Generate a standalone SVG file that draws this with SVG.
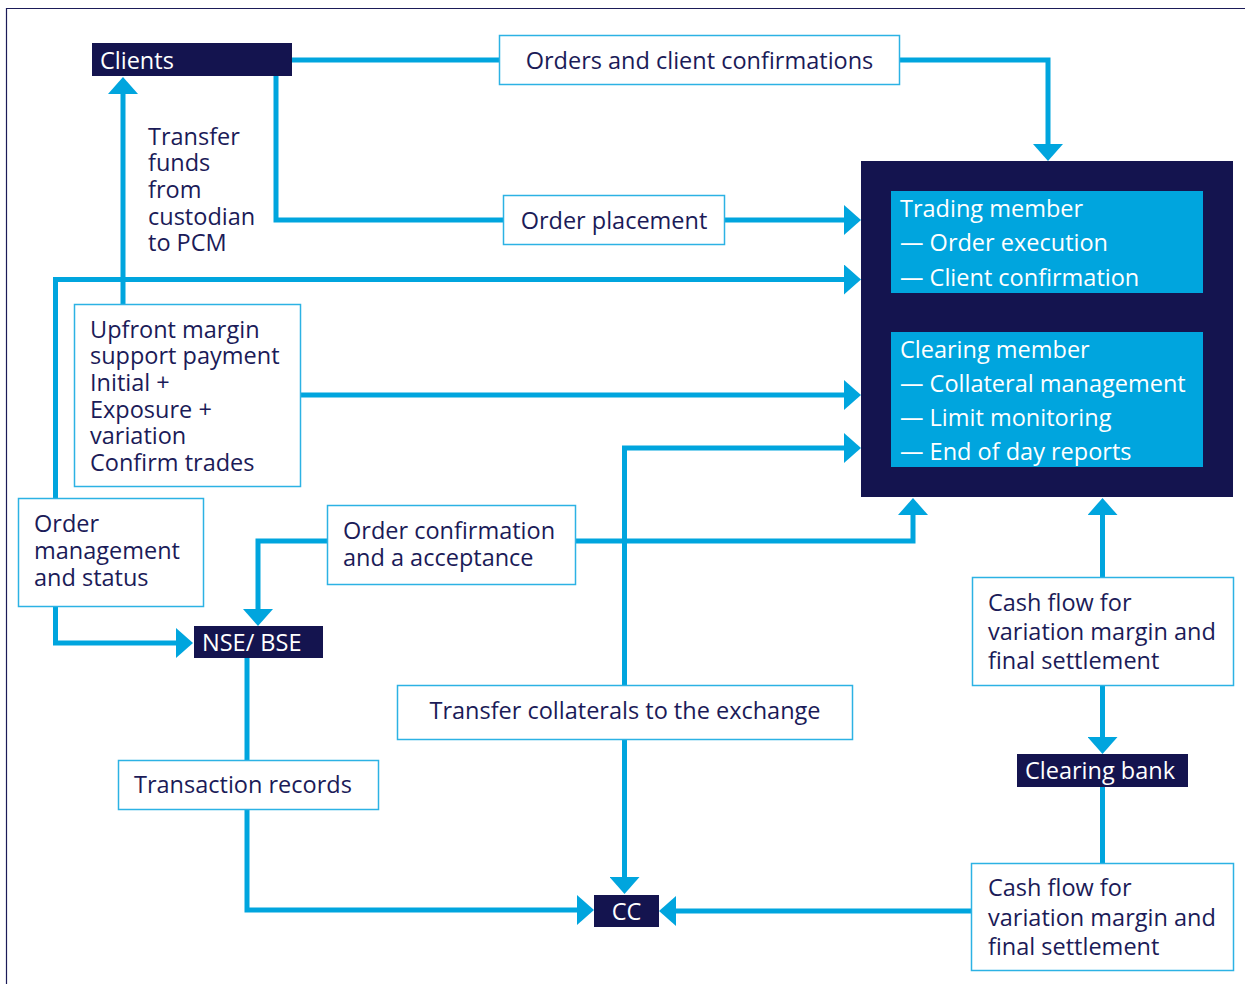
<svg xmlns="http://www.w3.org/2000/svg" width="1245" height="984" viewBox="0 0 1245 984">
  <defs>
    <style>
      .frame { fill: none; stroke: #1b1b58; stroke-width: 1.2; }
      .conn { fill: none; stroke: #00a5de; stroke-width: 5; stroke-linejoin: miter; }
      .box { fill: #ffffff; stroke: #2cb2e4; stroke-width: 1.5; }
      .dark { fill: #14144f; }
      .panel { fill: #00a5de; }
      .t { font-family: "Open Sans", "Noto Sans", "Liberation Sans", sans-serif; font-size: 23.5px; fill: #1b1b58; }
      .w { font-family: "Open Sans", "Noto Sans", "Liberation Sans", sans-serif; font-size: 23.5px; fill: #ffffff; }
      .mid { text-anchor: middle; }
    </style>
    <marker id="arrow" markerUnits="userSpaceOnUse" markerWidth="17" markerHeight="30" viewBox="0 0 17 30" refX="0" refY="15" orient="auto">
      <path d="M0,0 L17,15 L0,30 Z" fill="#00a5de"/>
    </marker>
  </defs>

  <rect width="1245" height="984" fill="#ffffff"/>
  <!-- outer frame -->
  <path class="frame" d="M6.5,984 V8.5 H1245"/>

  <g id="connectors">
    <path class="conn" d="M292,60 H1048 V144" marker-end="url(#arrow)"/>
    <path class="conn" d="M276,76 V220 H844" marker-end="url(#arrow)"/>
    <path class="conn" d="M123,304 V94" marker-end="url(#arrow)"/>
    <path class="conn" d="M55.5,499 V279.5 H844" marker-end="url(#arrow)"/>
    <path class="conn" d="M300,395 H844" marker-end="url(#arrow)"/>
    <path class="conn" d="M624.5,685 V448 H844" marker-end="url(#arrow)"/>
    <path class="conn" d="M55.5,606 V643 H176" marker-end="url(#arrow)"/>
    <path class="conn" d="M327,541 H258 V609" marker-end="url(#arrow)"/>
    <path class="conn" d="M575,541 H913 V515" marker-end="url(#arrow)"/>
    <path class="conn" d="M247,658 V910 H577" marker-end="url(#arrow)"/>
    <path class="conn" d="M624.5,739 V877" marker-end="url(#arrow)"/>
    <path class="conn" d="M1102.5,577 V515" marker-end="url(#arrow)"/>
    <path class="conn" d="M1102.5,685 V737" marker-end="url(#arrow)"/>
    <path class="conn" d="M1102.5,787 V863"/>
    <path class="conn" d="M971,911 H676" marker-end="url(#arrow)"/>
  </g>

  <g id="clients">
    <rect class="dark" x="92" y="43" width="200" height="33"/>
    <text class="w" x="100" y="69">Clients</text>
  </g>

  <g id="orders-confirmations">
    <rect class="box" x="499.5" y="35.5" width="400" height="49"/>
    <text class="t mid" x="699.5" y="69">Orders and client confirmations</text>
  </g>

  <g id="transfer-funds">
    <text class="t" x="148" y="145">Transfer</text>
    <text class="t" x="148" y="171">funds</text>
    <text class="t" x="148" y="198">from</text>
    <text class="t" x="148" y="225">custodian</text>
    <text class="t" x="148" y="251">to PCM</text>
  </g>

  <g id="order-placement">
    <rect class="box" x="503.5" y="195.5" width="221" height="49"/>
    <text class="t mid" x="614" y="229">Order placement</text>
  </g>

  <g id="members">
    <rect class="dark" x="861" y="161" width="372" height="336"/>
    <g id="trading-member">
      <rect class="panel" x="891" y="191" width="312" height="102"/>
      <text class="w" x="900" y="217">Trading member</text>
      <text class="w" x="900" y="251">— Order execution</text>
      <text class="w" x="900" y="286">— Client confirmation</text>
    </g>
    <g id="clearing-member">
      <rect class="panel" x="891" y="332" width="312" height="135"/>
      <text class="w" x="900" y="358">Clearing member</text>
      <text class="w" x="900" y="392">— Collateral management</text>
      <text class="w" x="900" y="426">— Limit monitoring</text>
      <text class="w" x="900" y="460">— End of day reports</text>
    </g>
  </g>

  <g id="upfront-margin">
    <rect class="box" x="74.5" y="304.5" width="226" height="182"/>
    <text class="t" x="90" y="338">Upfront margin</text>
    <text class="t" x="90" y="364">support payment</text>
    <text class="t" x="90" y="391">Initial +</text>
    <text class="t" x="90" y="418">Exposure +</text>
    <text class="t" x="90" y="444">variation</text>
    <text class="t" x="90" y="471">Confirm trades</text>
  </g>

  <g id="order-management">
    <rect class="box" x="18.5" y="498.5" width="185" height="108"/>
    <text class="t" x="34" y="532">Order</text>
    <text class="t" x="34" y="559">management</text>
    <text class="t" x="34" y="586">and status</text>
  </g>

  <g id="order-confirmation">
    <rect class="box" x="327.5" y="505.5" width="248" height="79"/>
    <text class="t" x="343" y="539">Order confirmation</text>
    <text class="t" x="343" y="566">and a acceptance</text>
  </g>

  <g id="exchange">
    <rect class="dark" x="194" y="626" width="129" height="32"/>
    <text class="w" x="202" y="651">NSE/ BSE</text>
  </g>

  <g id="transfer-collaterals">
    <rect class="box" x="397.5" y="685.5" width="455" height="54"/>
    <text class="t mid" x="625" y="719">Transfer collaterals to the exchange</text>
  </g>

  <g id="transaction-records">
    <rect class="box" x="118.5" y="760.5" width="260" height="49"/>
    <text class="t" x="134" y="793">Transaction records</text>
  </g>

  <g id="cc">
    <rect class="dark" x="594" y="895" width="65" height="32"/>
    <text class="w mid" x="626.5" y="920">CC</text>
  </g>

  <g id="cash-flow-upper">
    <rect class="box" x="972.5" y="577.5" width="261" height="108"/>
    <text class="t" x="988" y="611">Cash flow for</text>
    <text class="t" x="988" y="640">variation margin and</text>
    <text class="t" x="988" y="669">final settlement</text>
  </g>

  <g id="clearing-bank">
    <rect class="dark" x="1017" y="754" width="171" height="33"/>
    <text class="w" x="1025" y="779">Clearing bank</text>
  </g>

  <g id="cash-flow-lower">
    <rect class="box" x="971.5" y="863.5" width="262" height="107"/>
    <text class="t" x="988" y="896">Cash flow for</text>
    <text class="t" x="988" y="926">variation margin and</text>
    <text class="t" x="988" y="955">final settlement</text>
  </g>
</svg>
